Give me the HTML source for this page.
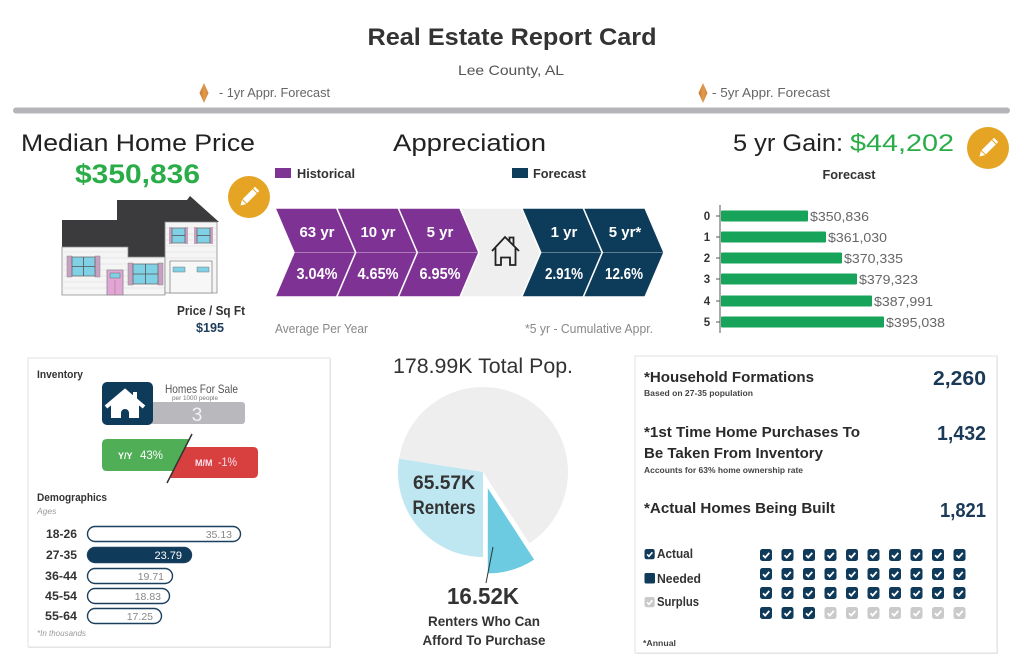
<!DOCTYPE html>
<html>
<head>
<meta charset="utf-8">
<style>
html,body{margin:0;padding:0;background:#fff;}
svg{display:block;font-family:"Liberation Sans",sans-serif;}
</style>
</head>
<body>
<svg width="1024" height="660" viewBox="0 0 1024 660" xmlns="http://www.w3.org/2000/svg">
<defs>
  <linearGradient id="dia" x1="0" x2="1" y1="0" y2="0">
    <stop offset="0" stop-color="#c8742c"/>
    <stop offset="0.5" stop-color="#e09a4e"/>
    <stop offset="1" stop-color="#d3863c"/>
  </linearGradient>
  <g id="cb"><rect x="0" y="0" width="12" height="12" rx="2.5" fill="#0f3a5a"/><polyline points="3,6.3 5.2,8.6 9.3,3.9" fill="none" stroke="#fff" stroke-width="1.8"/></g>
  <g id="cbg"><rect x="0" y="0" width="12" height="12" rx="2.5" fill="#cacaca"/><polyline points="3,6.3 5.2,8.6 9.3,3.9" fill="none" stroke="#fff" stroke-width="1.8"/></g>
</defs>
<rect width="1024" height="660" fill="#fff"/>

<!-- Header -->
<text x="512" y="45" text-anchor="middle" font-size="24" font-weight="bold" fill="#333" textLength="289" lengthAdjust="spacingAndGlyphs">Real Estate Report Card</text>
<text x="511" y="75" text-anchor="middle" font-size="14" fill="#555" textLength="106" lengthAdjust="spacingAndGlyphs">Lee County, AL</text>
<polygon points="204,83 208.5,93 204,103 199.5,93" fill="url(#dia)"/>
<text x="219" y="97" font-size="13" fill="#666" textLength="111" lengthAdjust="spacingAndGlyphs">- 1yr Appr. Forecast</text>
<polygon points="703,83 707.5,93 703,103 698.5,93" fill="url(#dia)"/>
<text x="712" y="97" font-size="13" fill="#666" textLength="118" lengthAdjust="spacingAndGlyphs">- 5yr Appr. Forecast</text>
<rect x="13" y="107.5" width="997" height="6" rx="3" fill="#b5b5b9"/>

<!-- Median Home Price -->
<text x="21" y="151" font-size="24" fill="#222" textLength="234" lengthAdjust="spacingAndGlyphs">Median Home Price</text>
<text x="75" y="183" font-size="27" font-weight="bold" fill="#2aad48" textLength="125" lengthAdjust="spacingAndGlyphs">$350,836</text>

<!-- House illustration -->
<g stroke-linejoin="round">
  <polygon points="62,220 117,220 117,200 187,200 190,196 219,222 165,222 165,257 128,257 128,247 62,247" fill="#3b3b3d"/>
  <polygon points="62,247 128,247 128,257 165,257 165,295 62,295" fill="#f5f5f5" stroke="#8a8a8a" stroke-width="0.8"/>
  <g stroke="#e0e0e0" stroke-width="0.7">
    <line x1="62" y1="252" x2="128" y2="252"/><line x1="62" y1="258" x2="165" y2="258"/>
    <line x1="62" y1="264" x2="165" y2="264"/><line x1="62" y1="270" x2="165" y2="270"/>
    <line x1="62" y1="276" x2="165" y2="276"/><line x1="62" y1="282" x2="165" y2="282"/>
    <line x1="62" y1="288" x2="165" y2="288"/>
  </g>
  <rect x="165" y="222" width="52" height="71" fill="#f5f5f5" stroke="#8a8a8a" stroke-width="0.8"/>
  <g stroke="#e0e0e0" stroke-width="0.7">
    <line x1="166" y1="228" x2="216" y2="228"/><line x1="166" y1="234" x2="216" y2="234"/>
    <line x1="166" y1="240" x2="216" y2="240"/><line x1="166" y1="246" x2="216" y2="246"/>
    <line x1="166" y1="252" x2="216" y2="252"/><line x1="166" y1="258" x2="216" y2="258"/>
  </g>
  <!-- left window -->
  <rect x="67" y="256" width="5" height="21" fill="#c8a0c2" stroke="#888" stroke-width="0.5"/>
  <rect x="95" y="256" width="5" height="21" fill="#c8a0c2" stroke="#888" stroke-width="0.5"/>
  <rect x="72" y="257" width="23" height="19" fill="#80d0e6" stroke="#666" stroke-width="0.8"/>
  <line x1="83.5" y1="257" x2="83.5" y2="276" stroke="#555" stroke-width="0.8"/><line x1="72" y1="266.5" x2="95" y2="266.5" stroke="#555" stroke-width="0.8"/>
  <!-- middle window -->
  <rect x="128" y="263" width="5" height="22" fill="#c8a0c2" stroke="#888" stroke-width="0.5"/>
  <rect x="158" y="263" width="5" height="22" fill="#c8a0c2" stroke="#888" stroke-width="0.5"/>
  <rect x="133" y="264" width="25" height="20" fill="#80d0e6" stroke="#666" stroke-width="0.8"/>
  <line x1="145.5" y1="264" x2="145.5" y2="284" stroke="#555" stroke-width="0.8"/><line x1="133" y1="274" x2="158" y2="274" stroke="#555" stroke-width="0.8"/>
  <!-- door -->
  <rect x="107" y="270" width="16" height="25" fill="#e2a6d6" stroke="#888" stroke-width="0.8"/>
  <rect x="110" y="273" width="10" height="5" fill="#80d0e6" stroke="#666" stroke-width="0.5"/>
  <line x1="115" y1="280" x2="115" y2="295" stroke="#a77" stroke-width="0.6"/>
  <!-- upper windows -->
  <rect x="169" y="227" width="3" height="17" fill="#c8a0c2"/><rect x="185" y="227" width="3" height="17" fill="#c8a0c2"/>
  <rect x="172" y="228" width="13" height="15" fill="#80d0e6" stroke="#666" stroke-width="0.8"/>
  <line x1="172" y1="235.5" x2="185" y2="235.5" stroke="#555" stroke-width="0.8"/>
  <rect x="194" y="227" width="3" height="17" fill="#c8a0c2"/><rect x="210" y="227" width="3" height="17" fill="#c8a0c2"/>
  <rect x="197" y="228" width="13" height="15" fill="#80d0e6" stroke="#666" stroke-width="0.8"/>
  <line x1="197" y1="235.5" x2="210" y2="235.5" stroke="#555" stroke-width="0.8"/>
  <!-- garage -->
  <rect x="170" y="261" width="42" height="32" fill="#f7f7f7" stroke="#888" stroke-width="0.8"/>
  <rect x="173" y="267" width="12" height="5" fill="#80d0e6" stroke="#777" stroke-width="0.5"/>
  <rect x="197" y="267" width="12" height="5" fill="#80d0e6" stroke="#777" stroke-width="0.5"/>
</g>

<!-- Pencil left -->
<circle cx="249" cy="197" r="21" fill="#e6a424"/>
<g transform="translate(249,197) rotate(-45)" fill="#fff">
  <rect x="-6" y="-3" width="14" height="6"/><polygon points="-7,-3 -12,0 -7,3"/><rect x="9" y="-3" width="2.5" height="6"/>
</g>

<text x="211" y="315" text-anchor="middle" font-size="12.5" font-weight="bold" fill="#333" textLength="68" lengthAdjust="spacingAndGlyphs">Price / Sq Ft</text>
<text x="210" y="332" text-anchor="middle" font-size="13" font-weight="bold" fill="#1c3c5a" textLength="28" lengthAdjust="spacingAndGlyphs">$195</text>

<!-- Appreciation -->
<text x="393" y="151" font-size="24" fill="#222" textLength="153" lengthAdjust="spacingAndGlyphs">Appreciation</text>
<rect x="275" y="168" width="16" height="10" fill="#7e3493"/>
<text x="297" y="178" font-size="13" font-weight="bold" fill="#333" textLength="58" lengthAdjust="spacingAndGlyphs">Historical</text>
<rect x="512" y="168" width="16" height="10" fill="#0e3c5b"/>
<text x="533" y="178" font-size="13" font-weight="bold" fill="#333" textLength="53" lengthAdjust="spacingAndGlyphs">Forecast</text>

<g stroke="#fff" stroke-width="1.5" stroke-linejoin="miter">
  <polygon points="275,208 336.7,208 355.7,252.5 336.7,297 275,297 294,252.5" fill="#7e3394"/>
  <polygon points="336.7,208 398.3,208 417.3,252.5 398.3,297 336.7,297 355.7,252.5" fill="#7e3394"/>
  <polygon points="398.3,208 460,208 479,252.5 460,297 398.3,297 417.3,252.5" fill="#7e3394"/>
  <polygon points="460,208 521.7,208 540.7,252.5 521.7,297 460,297 479,252.5" fill="#efefef"/>
  <polygon points="521.7,208 583.3,208 602.3,252.5 583.3,297 521.7,297 540.7,252.5" fill="#0d3b5a"/>
  <polygon points="583.3,208 645,208 664,252.5 645,297 583.3,297 602.3,252.5" fill="#0d3b5a"/>
</g>
<g stroke="#fff" stroke-opacity="0.35" stroke-width="1">
  <line x1="294" y1="252.5" x2="479" y2="252.5"/>
  <line x1="540.7" y1="252.5" x2="664" y2="252.5"/>
</g>
<g fill="#fff" font-weight="bold" text-anchor="middle">
  <text x="317" y="237" font-size="15">63 yr</text>
  <text x="378" y="237" font-size="15">10 yr</text>
  <text x="440" y="237" font-size="15">5 yr</text>
  <text x="564" y="237" font-size="15">1 yr</text>
  <text x="625" y="237" font-size="15">5 yr*</text>
  <text x="317" y="279" font-size="16" textLength="41" lengthAdjust="spacingAndGlyphs">3.04%</text>
  <text x="378" y="279" font-size="16" textLength="41" lengthAdjust="spacingAndGlyphs">4.65%</text>
  <text x="440" y="279" font-size="16" textLength="41" lengthAdjust="spacingAndGlyphs">6.95%</text>
  <text x="564" y="279" font-size="16" textLength="38" lengthAdjust="spacingAndGlyphs">2.91%</text>
  <text x="624" y="279" font-size="16" textLength="38" lengthAdjust="spacingAndGlyphs">12.6%</text>
</g>
<!-- outline house icon -->
<g fill="none" stroke="#222" stroke-width="1.8" stroke-linejoin="miter">
  <polyline points="492,251 505,237 519,251"/>
  <polyline points="509.5,241.5 509.5,237.5 513.5,237.5 513.5,245.5"/>
  <polyline points="495.5,248 495.5,265 501,265 501,257.5 510,257.5 510,265 515.5,265 515.5,248"/>
</g>
<text x="275" y="333" font-size="12.5" fill="#888" textLength="93" lengthAdjust="spacingAndGlyphs">Average Per Year</text>
<text x="525" y="333" font-size="12.5" fill="#888" textLength="128" lengthAdjust="spacingAndGlyphs">*5 yr - Cumulative Appr.</text>

<!-- 5 yr gain -->
<text x="733" y="151" font-size="24" fill="#222" textLength="110" lengthAdjust="spacingAndGlyphs">5 yr Gain:</text>
<text x="850" y="151" font-size="24" fill="#2aad48" textLength="104" lengthAdjust="spacingAndGlyphs">$44,202</text>
<circle cx="988" cy="148" r="21" fill="#e6a424"/>
<g transform="translate(988,148) rotate(-45)" fill="#fff">
  <rect x="-6" y="-3" width="14" height="6"/><polygon points="-7,-3 -12,0 -7,3"/><rect x="9" y="-3" width="2.5" height="6"/>
</g>
<text x="849" y="179" text-anchor="middle" font-size="12.5" font-weight="bold" fill="#333" textLength="53" lengthAdjust="spacingAndGlyphs">Forecast</text>

<line x1="720" y1="205" x2="720" y2="333" stroke="#555" stroke-width="1"/>
<g stroke="#555" stroke-width="1">
  <line x1="716" y1="216" x2="720" y2="216"/><line x1="716" y1="237" x2="720" y2="237"/>
  <line x1="716" y1="258" x2="720" y2="258"/><line x1="716" y1="279" x2="720" y2="279"/>
  <line x1="716" y1="301" x2="720" y2="301"/><line x1="716" y1="322" x2="720" y2="322"/>
</g>
<g fill="#333" font-size="11.5" font-weight="bold" text-anchor="middle">
  <text x="707" y="220">0</text><text x="707" y="241">1</text><text x="707" y="262">2</text>
  <text x="707" y="283">3</text><text x="707" y="305">4</text><text x="707" y="326">5</text>
</g>
<g fill="#17a35a">
  <rect x="721" y="210.5" width="87" height="11" rx="1"/>
  <rect x="721" y="231.5" width="105" height="11" rx="1"/>
  <rect x="721" y="252.5" width="121" height="11" rx="1"/>
  <rect x="721" y="273.5" width="136" height="11" rx="1"/>
  <rect x="721" y="295.5" width="151" height="11" rx="1"/>
  <rect x="721" y="316.5" width="163" height="11" rx="1"/>
</g>
<g fill="#666" font-size="13">
  <text x="810" y="221" textLength="59" lengthAdjust="spacingAndGlyphs">$350,836</text>
  <text x="828" y="242" textLength="59" lengthAdjust="spacingAndGlyphs">$361,030</text>
  <text x="844" y="263" textLength="59" lengthAdjust="spacingAndGlyphs">$370,335</text>
  <text x="859" y="284" textLength="59" lengthAdjust="spacingAndGlyphs">$379,323</text>
  <text x="874" y="306" textLength="59" lengthAdjust="spacingAndGlyphs">$387,991</text>
  <text x="886" y="327" textLength="59" lengthAdjust="spacingAndGlyphs">$395,038</text>
</g>

<!-- Inventory box -->
<rect x="29" y="359" width="302" height="289" fill="#e8e8e8"/>
<rect x="28" y="358" width="302" height="289" fill="#fff" stroke="#e2e2e2" stroke-width="1"/>
<text x="37" y="378" font-size="11" font-weight="bold" fill="#333" textLength="46" lengthAdjust="spacingAndGlyphs">Inventory</text>
<rect x="150" y="402" width="95" height="22" rx="3" fill="#b9b9bd"/>
<rect x="102" y="382" width="51" height="43" rx="5" fill="#0f3b5a"/>
<g fill="none" stroke="#fff" stroke-width="4" stroke-linejoin="miter">
  <polyline points="106,407 125,391 144,407"/>
</g>
<path d="M111,404 L111,418 L121,418 L121,413 A4,4 0 0 1 129,413 L129,418 L139,418 L139,404 L125,393 Z" fill="#fff"/>
<rect x="133" y="392" width="4" height="7" fill="#fff"/>
<text x="165" y="393" font-size="12" fill="#555" textLength="73" lengthAdjust="spacingAndGlyphs">Homes For Sale</text>
<text x="172" y="400" font-size="6" fill="#777" textLength="46" lengthAdjust="spacingAndGlyphs">per 1000 people</text>
<text x="197" y="421" text-anchor="middle" font-size="19" fill="#f2f2f2">3</text>

<path d="M107,439 L189.4,439 L173,471 L107,471 Q102,471 102,466 L102,444 Q102,439 107,439 Z" fill="#4fae56"/>
<path d="M185.4,447 L253,447 Q258,447 258,452 L258,473 Q258,478 253,478 L169.6,478 Z" fill="#d84040"/>
<line x1="192" y1="434" x2="167" y2="483" stroke="#333" stroke-width="1.5"/>
<text x="118" y="459" font-size="9" font-weight="bold" fill="#fff">Y/Y</text>
<text x="140" y="459" font-size="12" fill="#fff" textLength="23" lengthAdjust="spacingAndGlyphs">43%</text>
<text x="195" y="466" font-size="9" font-weight="bold" fill="#fbe0ee">M/M</text>
<text x="218" y="466" font-size="12" fill="#fbe0ee" textLength="19" lengthAdjust="spacingAndGlyphs">-1%</text>

<text x="37" y="501" font-size="11" font-weight="bold" fill="#333" textLength="70" lengthAdjust="spacingAndGlyphs">Demographics</text>
<text x="37" y="514" font-size="8.5" font-style="italic" fill="#999">Ages</text>

<g font-size="11.5" font-weight="bold" fill="#333">
  <text x="46" y="538" textLength="31" lengthAdjust="spacingAndGlyphs">18-26</text>
  <text x="46" y="559" textLength="31" lengthAdjust="spacingAndGlyphs">27-35</text>
  <text x="45" y="580" textLength="32" lengthAdjust="spacingAndGlyphs">36-44</text>
  <text x="45" y="600" textLength="32" lengthAdjust="spacingAndGlyphs">45-54</text>
  <text x="45" y="620" textLength="32" lengthAdjust="spacingAndGlyphs">55-64</text>
</g>
<g stroke="#1b3f5e" stroke-width="1.4" fill="#fff">
  <rect x="87.5" y="526.5" width="153" height="15" rx="7.5"/>
  <rect x="87.5" y="547.5" width="104" height="15" rx="7.5" fill="#0f3a5a"/>
  <rect x="87.5" y="568.5" width="85" height="15" rx="7.5"/>
  <rect x="87.5" y="588.5" width="82" height="15" rx="7.5"/>
  <rect x="87.5" y="608.5" width="74" height="15" rx="7.5"/>
</g>
<g font-size="10.5" fill="#888" text-anchor="end">
  <text x="232" y="538">35.13</text>
  <text x="182" y="559" fill="#fff" font-size="11">23.79</text>
  <text x="164" y="580">19.71</text>
  <text x="161" y="600">18.83</text>
  <text x="153" y="620">17.25</text>
</g>
<text x="37" y="636" font-size="8" font-style="italic" fill="#999">*In thousands</text>

<!-- Pie -->
<text x="483" y="373" text-anchor="middle" font-size="21" fill="#333" textLength="180" lengthAdjust="spacingAndGlyphs">178.99K Total Pop.</text>
<path d="M483,472 L399.05,458.7 A85,85 0 1,1 529.3,543.3 Z" fill="#eeeeee"/>
<path d="M483,472 L483,557 A85,85 0 0,1 399.05,458.7 Z" fill="#bee7f2"/>
<path d="M487.8,488.3 L534.1,559.6 A85,85 0 0,1 487.8,573.3 Z" fill="#6ccbe0"/>
<line x1="486" y1="583" x2="493" y2="547" stroke="#333" stroke-width="1"/>
<text x="444" y="489" text-anchor="middle" font-size="19" font-weight="bold" fill="#333" textLength="62" lengthAdjust="spacingAndGlyphs">65.57K</text>
<text x="444" y="514" text-anchor="middle" font-size="19" font-weight="bold" fill="#333" textLength="63" lengthAdjust="spacingAndGlyphs">Renters</text>
<text x="483" y="604" text-anchor="middle" font-size="23" font-weight="bold" fill="#333" textLength="72" lengthAdjust="spacingAndGlyphs">16.52K</text>
<text x="484" y="626" text-anchor="middle" font-size="14" font-weight="bold" fill="#333" textLength="112" lengthAdjust="spacingAndGlyphs">Renters Who Can</text>
<text x="484" y="645" text-anchor="middle" font-size="14" font-weight="bold" fill="#333" textLength="123" lengthAdjust="spacingAndGlyphs">Afford To Purchase</text>

<!-- Right box -->
<rect x="636" y="357" width="362" height="297" fill="#e8e8e8"/>
<rect x="635" y="356" width="362" height="297" fill="#fff" stroke="#e2e2e2" stroke-width="1"/>
<text x="644" y="382" font-size="15" font-weight="bold" fill="#2a2a2a" textLength="170" lengthAdjust="spacingAndGlyphs">*Household Formations</text>
<text x="644" y="396" font-size="8" font-weight="bold" fill="#444" textLength="109" lengthAdjust="spacingAndGlyphs">Based on 27-35 population</text>
<text x="986" y="385" text-anchor="end" font-size="20" font-weight="bold" fill="#1b3a57" textLength="53" lengthAdjust="spacingAndGlyphs">2,260</text>
<text x="644" y="437" font-size="15" font-weight="bold" fill="#2a2a2a" textLength="216" lengthAdjust="spacingAndGlyphs">*1st Time Home Purchases To</text>
<text x="644" y="458" font-size="15" font-weight="bold" fill="#2a2a2a" textLength="179" lengthAdjust="spacingAndGlyphs">Be Taken From Inventory</text>
<text x="644" y="473" font-size="8" font-weight="bold" fill="#444" textLength="159" lengthAdjust="spacingAndGlyphs">Accounts for 63% home ownership rate</text>
<text x="986" y="440" text-anchor="end" font-size="20" font-weight="bold" fill="#1b3a57" textLength="49" lengthAdjust="spacingAndGlyphs">1,432</text>
<text x="644" y="513" font-size="15" font-weight="bold" fill="#2a2a2a" textLength="191" lengthAdjust="spacingAndGlyphs">*Actual Homes Being Built</text>
<text x="986" y="517" text-anchor="end" font-size="20" font-weight="bold" fill="#1b3a57" textLength="46" lengthAdjust="spacingAndGlyphs">1,821</text>

<!-- legend -->
<g transform="translate(644.5,549) scale(0.85)"><use href="#cb"/></g>
<rect x="644.5" y="573" width="10.5" height="10.5" rx="1.5" fill="#0f3a5a"/>
<g transform="translate(644.5,597) scale(0.85)"><use href="#cbg"/></g>
<g font-size="12.5" font-weight="bold" fill="#333">
  <text x="657" y="558" textLength="36" lengthAdjust="spacingAndGlyphs">Actual</text>
  <text x="657" y="583" textLength="44" lengthAdjust="spacingAndGlyphs">Needed</text>
  <text x="657" y="606" textLength="42" lengthAdjust="spacingAndGlyphs">Surplus</text>
</g>
<text x="643" y="646" font-size="8" font-weight="bold" fill="#444" textLength="33" lengthAdjust="spacingAndGlyphs">*Annual</text>

<!-- grid -->
<g>
  <use href="#cb" x="760" y="549"/><use href="#cb" x="781.5" y="549"/><use href="#cb" x="803" y="549"/><use href="#cb" x="824.5" y="549"/><use href="#cb" x="846" y="549"/>
  <use href="#cb" x="867.5" y="549"/><use href="#cb" x="889" y="549"/><use href="#cb" x="910.5" y="549"/><use href="#cb" x="932" y="549"/><use href="#cb" x="953.5" y="549"/>
  <use href="#cb" x="760" y="568"/><use href="#cb" x="781.5" y="568"/><use href="#cb" x="803" y="568"/><use href="#cb" x="824.5" y="568"/><use href="#cb" x="846" y="568"/>
  <use href="#cb" x="867.5" y="568"/><use href="#cb" x="889" y="568"/><use href="#cb" x="910.5" y="568"/><use href="#cb" x="932" y="568"/><use href="#cb" x="953.5" y="568"/>
  <use href="#cb" x="760" y="587"/><use href="#cb" x="781.5" y="587"/><use href="#cb" x="803" y="587"/><use href="#cb" x="824.5" y="587"/><use href="#cb" x="846" y="587"/>
  <use href="#cb" x="867.5" y="587"/><use href="#cb" x="889" y="587"/><use href="#cb" x="910.5" y="587"/><use href="#cb" x="932" y="587"/><use href="#cb" x="953.5" y="587"/>
  <use href="#cb" x="760" y="607"/><use href="#cb" x="781.5" y="607"/><use href="#cb" x="803" y="607"/><use href="#cbg" x="824.5" y="607"/><use href="#cbg" x="846" y="607"/>
  <use href="#cbg" x="867.5" y="607"/><use href="#cbg" x="889" y="607"/><use href="#cbg" x="910.5" y="607"/><use href="#cbg" x="932" y="607"/><use href="#cbg" x="953.5" y="607"/>
</g>
</svg>
</body>
</html>
